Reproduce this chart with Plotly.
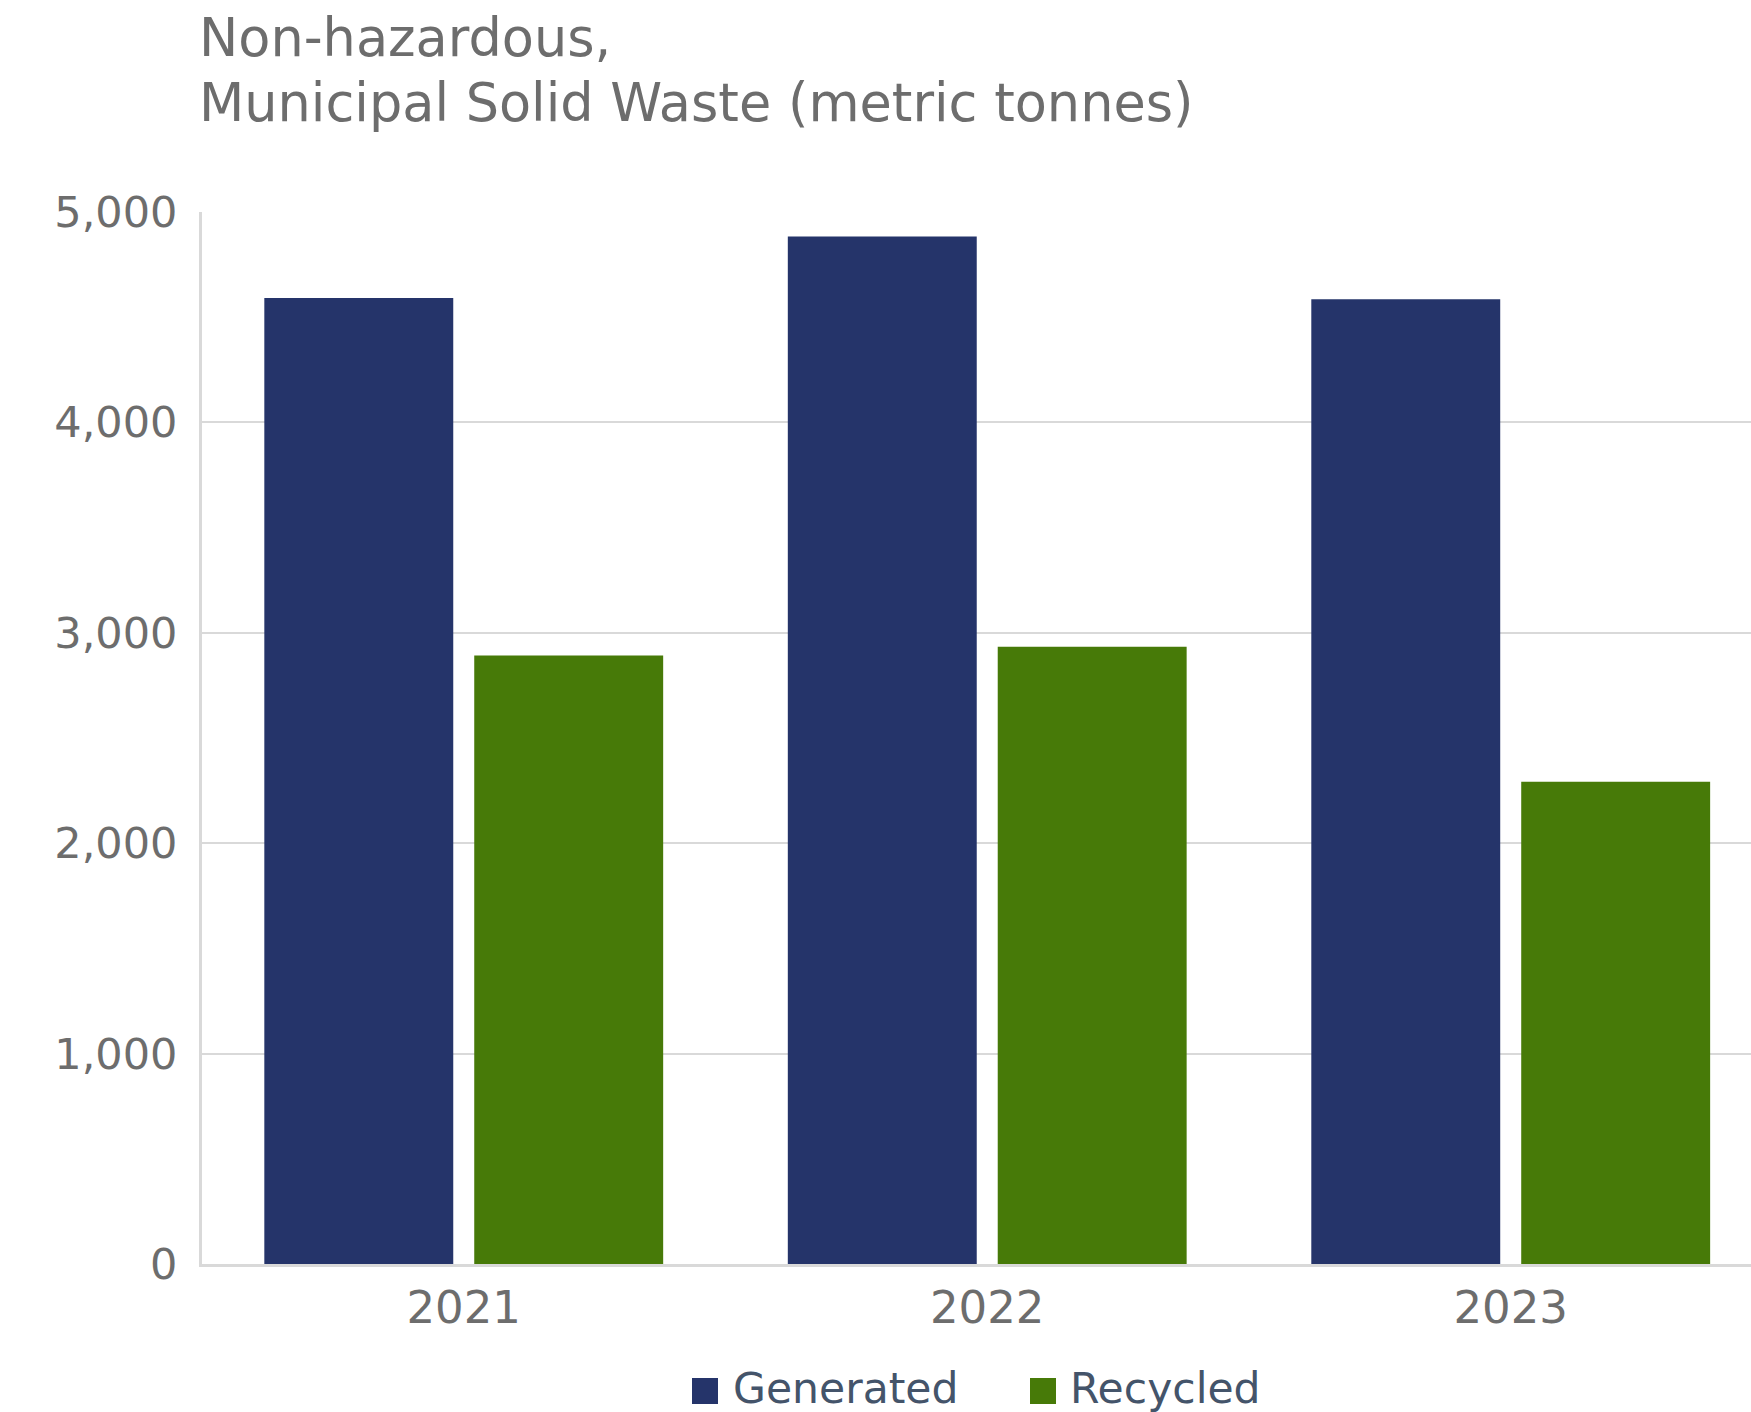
import plotly.graph_objects as go

years = ["2021", "2022", "2023"]
generated = [4591, 4883, 4585]
recycled = [2892, 2934, 2292]
series_names = ["Generated", "Recycled"]
series_colors = ["#25346a", "#477a08"]
y_ticks = [0, 1000, 2000, 3000, 4000, 5000]
y_tick_labels = ["0", "1,000", "2,000", "3,000", "4,000", "5,000"]
title_lines = ["Non-hazardous,", "Municipal Solid Waste (metric tonnes)"]

W, H = 1751, 1412
L, T, B = 202, 212, 148
PW, PH = W - L, H - T - B
FONT = "DejaVu Sans"
GRAY = "#6d6d6d"
LEG = "#44546a"


def px_x(x):
    return (x - L) / PW


def px_y(y):
    return (H - B - y) / PH


fig = go.Figure()
for name, vals, col in zip(series_names, [generated, recycled], series_colors):
    fig.add_trace(go.Bar(name=name, x=years, y=vals, showlegend=False,
                         marker=dict(color=col, line=dict(width=0))))

annotations = []
# title, two lines
for line, yc in zip(title_lines, [38, 102.5]):
    annotations.append(dict(text=line, xref="paper", yref="paper",
                            x=px_x(197), y=px_y(yc), xanchor="left", yanchor="middle",
                            showarrow=False, font=dict(family=FONT, size=52.5, color=GRAY)))

# legend: coloured squares + labels
shapes = []
leg_items = [(692, 731), (1030, 1068)]
for (sx, tx), name, col in zip(leg_items, series_names, series_colors):
    shapes.append(dict(type="rect", xref="paper", yref="paper",
                       x0=px_x(sx), x1=px_x(sx + 26), y0=px_y(1378), y1=px_y(1404),
                       fillcolor=col, line=dict(width=0)))
    annotations.append(dict(text=name, xref="paper", yref="paper",
                            x=px_x(tx), y=px_y(1388), xanchor="left", yanchor="middle",
                            showarrow=False, font=dict(family=FONT, size=42.5, color=LEG)))

fig.update_layout(
    width=W, height=H,
    paper_bgcolor="white", plot_bgcolor="white",
    margin=dict(l=L, r=0, t=T, b=B, pad=0),
    barmode="group", bargap=0.198, bargroupgap=0.1,
    font=dict(family=FONT, color=GRAY),
    showlegend=False,
    annotations=annotations,
    shapes=shapes,
    xaxis=dict(range=[-0.5, 2.459], showgrid=False, showline=True,
               linecolor="#d9d9d9", linewidth=3, ticks="",
               tickfont=dict(family=FONT, size=45, color=GRAY), ticklabelstandoff=2),
    yaxis=dict(range=[0, 5000], tickvals=y_ticks, ticktext=y_tick_labels,
               showgrid=True, gridcolor="#d9d9d9", gridwidth=2,
               showline=True, linecolor="#d9d9d9", linewidth=3,
               zeroline=False, ticks="",
               tickfont=dict(family=FONT, size=43, color=GRAY), ticklabelstandoff=13),
)

fig.write_html("out.html", config={"displayModeBar": False},
               post_script="document.body.style.margin='0px';document.body.style.overflow='hidden';")
